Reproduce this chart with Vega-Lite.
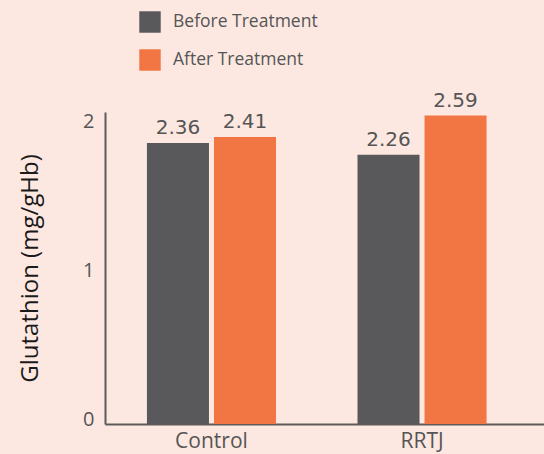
{
  "$schema": "https://vega.github.io/schema/vega-lite/v6.json",
  "width": 439,
  "height": 312,
  "autosize": {"type": "none"},
  "padding": {"left": 105, "top": 112, "right": 0, "bottom": 30},
  "background": "#fce8e1",
  "config": {"view": {"stroke": null}},
  "data": {"values": [
    {"group": "Control", "treatment": "Before Treatment", "value": 2.36},
    {"group": "Control", "treatment": "After Treatment", "value": 2.41},
    {"group": "RRTJ", "treatment": "Before Treatment", "value": 2.26},
    {"group": "RRTJ", "treatment": "After Treatment", "value": 2.59}
  ]},
  "encoding": {
    "x": {"field": "group", "type": "nominal", "sort": ["Control", "RRTJ"],
      "scale": {"paddingInner": 0.387, "paddingOuter": 0.236, "align": 0.422},
      "axis": {"title": null, "labelAngle": 0, "ticks": false, "labelPadding": 6, "labelFont": "Open Sans", "labelFontSize": 21, "labelColor": "#555555", "domainColor": "#5a5a5a", "domainWidth": 2, "grid": false}},
    "xOffset": {"field": "treatment", "type": "nominal", "sort": ["Before Treatment", "After Treatment"],
      "scale": {"paddingInner": 0.0746, "paddingOuter": 0}},
    "y": {"field": "value", "type": "quantitative",
      "scale": {"domain": [0, 2.62], "nice": false, "zero": true},
      "axis": {"title": "Glutathion (mg/gHb)", "titleFont": "Open Sans", "titleFontSize": 24, "titleFontWeight": "normal", "titleColor": "#1a1a1a", "titlePadding": 40,
        "values": [0, 1.25, 2.5], "labelExpr": "datum.value == 0 ? '0' : (datum.value < 2 ? '1' : '2')",
        "ticks": false, "labelPadding": 11, "labelOffset": -5, "labelFont": "Open Sans", "labelFontSize": 20, "labelColor": "#555555", "domainColor": "#5a5a5a", "domainWidth": 2, "grid": false}}
  },
  "layer": [
    {
      "mark": {"type": "bar"},
      "encoding": {
        "color": {"field": "treatment", "type": "nominal", "sort": ["Before Treatment", "After Treatment"],
          "scale": {"domain": ["Before Treatment", "After Treatment"], "range": ["#59595b", "#f27643"]},
          "legend": {"title": null, "orient": "none", "legendX": 34, "legendY": -101, "symbolType": "square", "symbolSize": 460, "symbolStrokeWidth": 0, "symbolOpacity": 1, "labelFont": "Open Sans", "labelFontSize": 17.5, "labelColor": "#555555", "labelOffset": 12, "rowPadding": 16}}
      }
    },
    {
      "mark": {"type": "text", "baseline": "alphabetic", "dy": -9, "font": "DejaVu Sans", "fontSize": 20, "color": "#555555"},
      "encoding": {"text": {"field": "value", "type": "quantitative", "format": ".2f"}}
    }
  ]
}
